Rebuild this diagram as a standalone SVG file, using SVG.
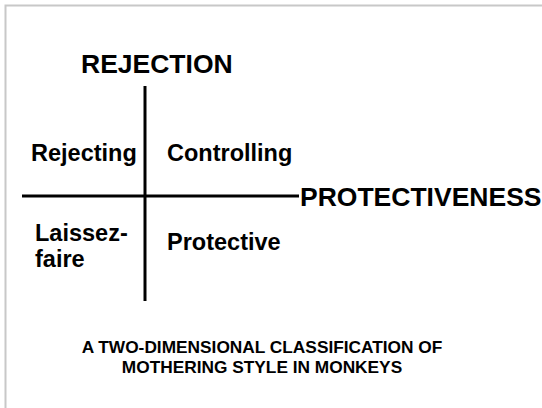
<svg xmlns="http://www.w3.org/2000/svg" width="542" height="408" viewBox="0 0 542 408">
<style>
text{font-family:"Liberation Sans",Arial,sans-serif;font-weight:bold;fill:#000}
.axis{font-size:26.5px}
.q{font-size:23.5px}
.cap{font-size:17.3px;text-anchor:middle}
.ax{stroke:#000;stroke-width:3;fill:none}
</style>
<rect x="0" y="0" width="542" height="408" fill="#fff"/>
<path d="M5.5 408 V5.5 H542" fill="none" stroke="#c8c8c8" stroke-width="2"/>
<g id="connectors">
<line class="ax" x1="145" y1="86" x2="145" y2="301"/>
<line class="ax" x1="22" y1="196" x2="299" y2="196"/>
</g>
<g id="rejection"><text class="axis" x="81" y="73">REJECTION</text></g>
<g id="protectiveness"><text class="axis" x="300" y="206">PROTECTIVENESS</text></g>
<g id="rejecting"><text class="q" x="31" y="161">Rejecting</text></g>
<g id="controlling"><text class="q" x="167" y="161">Controlling</text></g>
<g id="laissez-faire"><text class="q" x="35" y="241">Laissez-</text><text class="q" x="35" y="267">faire</text></g>
<g id="protective"><text class="q" x="167" y="250">Protective</text></g>
<g id="caption">
<text class="cap" x="262" y="353">A TWO-DIMENSIONAL CLASSIFICATION OF</text>
<text class="cap" x="262" y="373">MOTHERING STYLE IN MONKEYS</text>
</g>
</svg>
